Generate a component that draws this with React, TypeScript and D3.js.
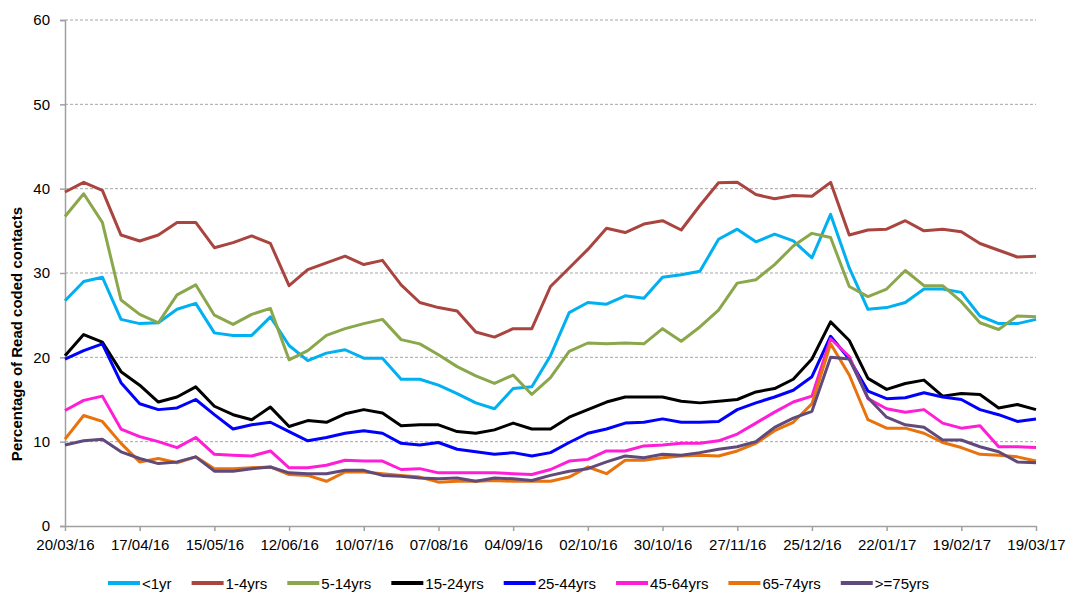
import React, { useEffect, useRef } from 'react';
import * as d3 from 'd3';

// weekly values, week 0 = 20/03/16 ... week 52 = 19/03/17
const under1 = [26.7, 29.0, 29.5, 24.5, 24.0, 24.1, 25.7, 26.4, 22.9, 22.6, 22.6, 24.8, 21.4, 19.6, 20.5, 20.9, 19.9, 19.9, 17.4, 17.4, 16.7, 15.7, 14.6, 13.9, 16.3, 16.5, 20.2, 25.3, 26.5, 26.3, 27.3, 27.0, 29.5, 29.8, 30.2, 34.0, 35.2, 33.7, 34.6, 33.8, 31.8, 36.95, 30.6, 25.7, 25.9, 26.5, 28.1, 28.1, 27.7, 24.9, 24.0, 24.0, 24.5];
const age1to4 = [39.6, 40.75, 39.8, 34.5, 33.8, 34.5, 36.0, 36.0, 33.0, 33.6, 34.4, 33.5, 28.5, 30.4, 31.2, 32.0, 31.0, 31.5, 28.6, 26.5, 25.9, 25.5, 23.0, 22.4, 23.4, 23.4, 28.4, 30.6, 32.8, 35.3, 34.8, 35.8, 36.2, 35.1, 38.0, 40.7, 40.75, 39.3, 38.8, 39.2, 39.1, 40.75, 34.5, 35.1, 35.2, 36.2, 35.0, 35.2, 34.9, 33.5, 32.7, 31.9, 32.0];
const age5to14 = [36.7, 39.4, 36.0, 26.8, 25.1, 24.1, 27.4, 28.6, 25.0, 23.9, 25.1, 25.8, 19.7, 20.8, 22.6, 23.4, 24.0, 24.5, 22.1, 21.6, 20.3, 18.9, 17.8, 16.9, 17.9, 15.6, 17.6, 20.7, 21.7, 21.6, 21.7, 21.6, 23.4, 21.9, 23.6, 25.6, 28.8, 29.2, 31.0, 33.2, 34.7, 34.2, 28.4, 27.2, 28.1, 30.3, 28.5, 28.5, 26.6, 24.1, 23.3, 24.9, 24.8];
const age15to24 = [20.2, 22.7, 21.8, 18.3, 16.7, 14.7, 15.3, 16.5, 14.2, 13.2, 12.6, 14.1, 11.8, 12.5, 12.3, 13.3, 13.8, 13.4, 11.9, 12.0, 12.0, 11.2, 11.0, 11.4, 12.2, 11.5, 11.5, 12.9, 13.8, 14.7, 15.3, 15.3, 15.3, 14.8, 14.6, 14.8, 15.0, 15.9, 16.3, 17.4, 19.8, 24.2, 22.0, 17.5, 16.2, 16.9, 17.3, 15.4, 15.7, 15.6, 14.0, 14.4, 13.8];
const age25to44 = [19.8, 20.8, 21.6, 17.0, 14.5, 13.8, 14.0, 15.0, 13.2, 11.5, 12.0, 12.3, 11.2, 10.1, 10.5, 11.0, 11.3, 11.0, 9.8, 9.6, 9.9, 9.1, 8.8, 8.5, 8.7, 8.3, 8.7, 9.9, 11.0, 11.5, 12.2, 12.3, 12.7, 12.3, 12.3, 12.4, 13.8, 14.6, 15.3, 16.1, 17.7, 22.5, 19.8, 16.0, 15.1, 15.2, 15.8, 15.3, 15.0, 13.8, 13.2, 12.4, 12.7];
const age45to64 = [13.7, 14.9, 15.4, 11.5, 10.6, 10.0, 9.3, 10.5, 8.5, 8.4, 8.3, 8.9, 6.9, 6.9, 7.2, 7.8, 7.7, 7.7, 6.7, 6.8, 6.3, 6.3, 6.3, 6.3, 6.2, 6.1, 6.7, 7.7, 7.9, 8.9, 8.9, 9.5, 9.6, 9.8, 9.8, 10.1, 10.9, 12.2, 13.5, 14.7, 15.4, 22.2, 20.1, 15.1, 13.9, 13.5, 13.8, 12.2, 11.6, 11.9, 9.4, 9.4, 9.3];
const age65to74 = [10.3, 13.1, 12.4, 9.8, 7.6, 8.0, 7.5, 8.2, 6.8, 6.8, 6.9, 7.0, 6.1, 6.0, 5.3, 6.4, 6.4, 6.2, 6.0, 5.8, 5.2, 5.3, 5.3, 5.4, 5.3, 5.3, 5.3, 5.8, 7.0, 6.2, 7.8, 7.8, 8.1, 8.3, 8.4, 8.3, 8.9, 9.8, 11.3, 12.3, 14.5, 21.6, 17.9, 12.6, 11.6, 11.6, 11.0, 9.9, 9.3, 8.5, 8.4, 8.2, 7.7];
const age75plus = [9.6, 10.1, 10.3, 8.8, 8.0, 7.4, 7.6, 8.2, 6.5, 6.5, 6.8, 7.0, 6.3, 6.2, 6.2, 6.6, 6.6, 6.0, 5.9, 5.7, 5.6, 5.7, 5.3, 5.7, 5.6, 5.4, 6.0, 6.5, 6.8, 7.6, 8.3, 8.1, 8.5, 8.4, 8.7, 9.1, 9.4, 10.0, 11.7, 12.8, 13.6, 20.0, 19.8, 15.2, 12.9, 12.0, 11.7, 10.2, 10.2, 9.4, 8.8, 7.6, 7.5];

const seriesNames = ['<1yr', '1-4yrs', '5-14yrs', '15-24yrs', '25-44yrs', '45-64yrs', '65-74yrs', '>=75yrs'];
const seriesValues = [under1, age1to4, age5to14, age15to24, age25to44, age45to64, age65to74, age75plus];
const seriesColors = ['#00B0F0', '#A9443F', '#8BA74C', '#000000', '#0000FF', '#FF1DD6', '#E8720C', '#604A7B'];

// x tick labels, one every 4 weeks
const tickLabels = ['20/03/16', '17/04/16', '15/05/16', '12/06/16', '10/07/16', '07/08/16', '04/09/16', '02/10/16', '30/10/16', '27/11/16', '25/12/16', '22/01/17', '19/02/17', '19/03/17'];
const yTicks = [0, 10, 20, 30, 40, 50, 60];

export default function App() {
  const svgRef = useRef<SVGSVGElement>(null);

  useEffect(() => {
    document.body.style.margin = '0';
    if (!svgRef.current) return;
    const svg = d3.select(svgRef.current);
    svg.selectAll('*').remove();

    const width = 1070;
    const margin = { top: 20, right: 34, bottom: 67, left: 65 };
    const height = 593;
    const font = 'Liberation Sans, Arial, sans-serif';
    const nWeeks = under1.length - 1;

    const x = d3.scaleLinear().domain([0, nWeeks]).range([margin.left, width - margin.right]);
    const y = d3.scaleLinear().domain([0, 60]).range([height - margin.bottom, margin.top]);

    // gridlines
    svg.append('g')
      .selectAll('line')
      .data(yTicks.filter(t => t > 0))
      .enter().append('line')
      .attr('x1', x(0))
      .attr('x2', x(nWeeks))
      .attr('y1', d => y(d))
      .attr('y2', d => y(d))
      .attr('stroke', '#A6A6A6')
      .attr('stroke-width', 1)
      .attr('stroke-dasharray', '3,2');

    // y axis
    const yAxis = svg.append('g')
      .attr('transform', `translate(${margin.left},0)`)
      .call(d3.axisLeft(y).tickValues(yTicks).tickSize(5).tickPadding(10));
    yAxis.select('.domain').attr('stroke', '#A0A0A0').attr('stroke-width', 1.5);
    yAxis.selectAll('.tick line').attr('stroke', '#A0A0A0').attr('stroke-width', 1.5);
    yAxis.selectAll('.tick text')
      .attr('font-family', font).attr('font-size', 15).attr('fill', '#000');

    // x axis
    const tickIdx = tickLabels.map((_, i) => i * 4);
    const xAxis = svg.append('g')
      .attr('transform', `translate(0,${y(0)})`)
      .call(d3.axisBottom(x).tickValues(tickIdx).tickSize(5).tickSizeOuter(0).tickPadding(8)
        .tickFormat((d: any) => tickLabels[tickIdx.indexOf(+d)]));
    xAxis.select('.domain').attr('stroke', '#A0A0A0').attr('stroke-width', 1.5);
    xAxis.selectAll('.tick line').attr('stroke', '#A0A0A0').attr('stroke-width', 1.5);
    xAxis.selectAll('.tick text')
      .attr('font-family', font).attr('font-size', 15).attr('fill', '#000');

    // y axis title
    svg.append('text')
      .attr('transform', 'translate(22,334) rotate(-90)')
      .attr('text-anchor', 'middle')
      .attr('font-family', font)
      .attr('font-size', 15)
      .attr('font-weight', 'bold')
      .text('Percentage of Read coded contacts');

    // lines
    const line = d3.line<number>()
      .x((_, i) => x(i))
      .y(d => y(d));

    seriesValues.forEach((vals, si) => {
      svg.append('path')
        .datum(vals)
        .attr('fill', 'none')
        .attr('stroke', seriesColors[si])
        .attr('stroke-width', 3)
        .attr('stroke-linejoin', 'round')
        .attr('d', line);
    });

    // legend
    const legend = svg.append('g');
    let lx = 108;
    const ly = 583;
    seriesNames.forEach((name, si) => {
      legend.append('line')
        .attr('x1', lx).attr('x2', lx + 32)
        .attr('y1', ly).attr('y2', ly)
        .attr('stroke', seriesColors[si])
        .attr('stroke-width', 4);
      const t = legend.append('text')
        .attr('x', lx + 34)
        .attr('y', ly + 6)
        .attr('font-family', font)
        .attr('font-size', 15)
        .text(name);
      const w = (t.node() as SVGTextElement).getComputedTextLength();
      lx += 34 + w + 20;
    });
  }, []);

  return <svg ref={svgRef} width={1070} height={593} style={{ display: 'block', background: '#fff' }} />;
}
